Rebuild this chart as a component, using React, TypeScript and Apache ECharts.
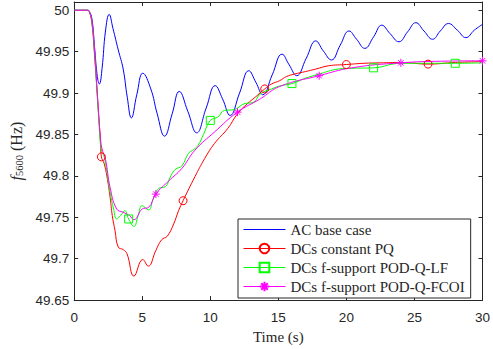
import React, { useEffect, useRef } from "react";
import * as echarts from "echarts";

// ---- Data ----
const blueT = [0, 1.0, 1.1, 1.3, 1.5, 1.7, 1.85, 2.05, 2.3, 2.57, 2.85, 3.24, 3.6, 3.9, 4.2, 4.6, 5.04, 5.63, 6.1, 6.64, 7.2, 7.72, 8.35, 9.0, 9.7, 10.36, 10.9, 11.46, 12.15, 12.83, 13.35, 13.86, 14.55, 15.27, 15.8, 16.35, 17.05, 17.75, 18.3, 18.9, 19.55, 20.19, 20.75, 21.35, 22.0, 22.6, 23.2, 23.86, 24.5, 25.1, 25.7, 26.33, 26.9, 27.5, 28.15, 28.78, 29.4, 30];
const blueY = [50, 50, 49.999, 49.99, 49.955, 49.92, 49.911, 49.93, 49.975, 49.995, 49.978, 49.952, 49.929, 49.895, 49.870, 49.898, 49.924, 49.905, 49.875, 49.848, 49.875, 49.902, 49.878, 49.852, 49.882, 49.909, 49.893, 49.873, 49.9, 49.927, 49.913, 49.898, 49.922, 49.947, 49.934, 49.921, 49.942, 49.963, 49.951, 49.940, 49.958, 49.975, 49.965, 49.954, 49.968, 49.982, 49.972, 49.962, 49.974, 49.985, 49.975, 49.965, 49.975, 49.984, 49.976, 49.967, 49.976, 49.983];

const redT = [0, 1.0, 1.1, 1.3, 1.5, 1.68, 1.8, 1.92, 2.0, 2.2, 2.4, 2.64, 2.8, 3.0, 3.24, 3.6, 3.88, 4.39, 5.04, 5.44, 6.0, 6.43, 6.83, 7.31, 7.67, 8.0, 8.87, 9.59, 10.3, 11.27, 12.0, 12.71, 13.3, 14.0, 14.5, 15.1, 15.6, 16.19, 17.0, 17.75, 18.7, 20.0, 21.3, 22.5, 24.0, 26.0, 28.0, 30];
const redY = [50, 50, 49.999, 49.985, 49.945, 49.903, 49.873, 49.845, 49.823, 49.815, 49.80, 49.774, 49.752, 49.734, 49.714, 49.711, 49.706, 49.679, 49.699, 49.691, 49.710, 49.723, 49.727, 49.742, 49.758, 49.770, 49.799, 49.821, 49.839, 49.857, 49.875, 49.887, 49.895, 49.905, 49.911, 49.915, 49.920, 49.923, 49.926, 49.929, 49.933, 49.9345, 49.936, 49.9365, 49.937, 49.935, 49.937, 49.938];

const greenT = [0, 1.0, 1.1, 1.3, 1.5, 1.68, 1.8, 1.92, 2.04, 2.2, 2.4, 2.64, 2.9, 3.12, 3.4, 3.72, 4.0, 4.39, 4.7, 4.99, 5.47, 5.8, 6.23, 6.7, 7.1, 7.44, 7.91, 8.39, 8.8, 9.11, 9.5, 10.0, 10.55, 11.03, 11.75, 12.47, 13.19, 13.67, 14.5, 15.2, 16.0, 17.0, 18.0, 19.4, 20.5, 22.0, 24.0, 26.0, 28.0, 30];
const greenY = [50, 50, 49.999, 49.985, 49.948, 49.90, 49.87, 49.84, 49.829, 49.823, 49.805, 49.78, 49.76, 49.748, 49.752, 49.758, 49.748, 49.739, 49.752, 49.764, 49.759, 49.772, 49.785, 49.787, 49.80, 49.808, 49.812, 49.827, 49.832, 49.837, 49.85, 49.867, 49.871, 49.879, 49.880, 49.887, 49.889, 49.899, 49.905, 49.909, 49.9115, 49.918, 49.923, 49.929, 49.93, 49.9305, 49.936, 49.936, 49.936, 49.9365];

const magentaT = [0, 1.0, 1.1, 1.3, 1.5, 1.68, 1.8, 1.92, 2.04, 2.3, 2.64, 3.12, 3.6, 4.07, 4.39, 4.99, 5.47, 6.0, 6.95, 7.91, 8.87, 10.31, 12.0, 13.67, 15.1, 18.0, 20.38, 24.0, 27.0, 30];
const magentaY = [50, 50, 49.999, 49.987, 49.95, 49.905, 49.875, 49.848, 49.833, 49.82, 49.786, 49.760, 49.756, 49.752, 49.747, 49.760, 49.762, 49.778, 49.794, 49.809, 49.831, 49.853, 49.877, 49.893, 49.908, 49.921, 49.9305, 49.9365, 49.9385, 49.939];

const redMarkers = [2, 8, 14, 20, 26];
const greenMarkers = [4, 10, 16, 22, 28];
const magentaMarkers = [6, 12, 18, 24, 30];

const seriesNames = ["AC base case", "DCs constant PQ", "DCs f-support POD-Q-LF", "DCs f-support POD-Q-FCOI"];
const seriesColors = ["#0000ff", "#ff0000", "#00ff00", "#ff00ff"];
const xTicks = [0, 5, 10, 15, 20, 25, 30];

const AX = "#262626";
const STAR = "path://M5,0L5,10M0,5L10,5M1.6,1.6L8.4,8.4M1.6,8.4L8.4,1.6";
const CLEAR = "rgba(0,0,0,0)";

function build(ts: number[], ys: number[], markers: number[]) {
  return ts.map((t, i) =>
    markers.some((m) => Math.abs(m - t) < 1e-6)
      ? { value: [t, ys[i]] }
      : { value: [t, ys[i]], symbol: "none" }
  );
}

export default function App() {
  const ref = useRef<HTMLDivElement>(null);
  useEffect(() => {
    if (!ref.current) return;
    const chart = echarts.init(ref.current, undefined, { renderer: "svg" });
    const fmtY = (v: number) => {
      if (Math.abs(v * 20 - Math.round(v * 20)) > 1e-6) return "";
      return String(Math.round(v * 100) / 100);
    };
    const axisCommon = {
      axisLine: { show: true, onZero: false, lineStyle: { color: AX, width: 1 } },
      axisTick: { show: true, inside: true, length: 4, lineStyle: { color: AX } },
      splitLine: { show: false },
    };
    chart.setOption({
      animation: false,
      backgroundColor: "#fff",
      grid: { left: 70, top: 2, width: 417, height: 302, containLabel: false },
      xAxis: [
        {
          type: "value", min: 0, max: 30, interval: 5, position: "bottom",
          ...axisCommon,
          axisLabel: { color: AX, fontFamily: "Liberation Sans, Arial, sans-serif", fontSize: 13.5, margin: 10,
            formatter: (v: number) => (xTicks.includes(v) ? String(v) : "") },
          name: "Time (s)", nameLocation: "middle", nameGap: 24,
          nameTextStyle: { color: AX, fontFamily: "Liberation Serif, Times New Roman, serif", fontSize: 15 },
        },
        {
          type: "value", min: 0, max: 30, interval: 5, position: "top",
          ...axisCommon, axisLabel: { show: false },
        },
      ],
      yAxis: [
        {
          type: "value", min: 49.65, max: 50.01, interval: 0.05, position: "left",
          ...axisCommon,
          axisLabel: { color: AX, fontFamily: "Liberation Sans, Arial, sans-serif", fontSize: 13.5, margin: 5, formatter: fmtY },
          name: "{i|f}{sub|5600}{n| (Hz)}", nameLocation: "middle", nameGap: 46,
          nameTextStyle: {
            rich: {
              i: { fontFamily: "Liberation Serif, serif", fontStyle: "italic", fontSize: 16, color: AX },
              sub: { fontFamily: "Liberation Serif, serif", fontSize: 10.5, color: AX, verticalAlign: "bottom", padding: [6, 0, 0, 0] },
              n: { fontFamily: "Liberation Serif, serif", fontSize: 16, color: AX },
            },
          },
        },
        {
          type: "value", min: 49.65, max: 50.01, interval: 0.05, position: "right",
          ...axisCommon, axisLabel: { show: false },
        },
      ],
      legend: {
        orient: "vertical", left: 238, top: 219,
        data: seriesNames.map((n, i) => ({ name: n, lineStyle: { color: seriesColors[i], width: 1 } })),
        itemWidth: 42, itemHeight: 12, itemGap: 4,
        padding: [3, 6, 4, 5],
        borderColor: AX, borderWidth: 1, backgroundColor: "#fff",
        textStyle: { color: AX, fontFamily: "Liberation Serif, Times New Roman, serif", fontSize: 15, padding: [0, 0, 0, 0] },
      },
      series: [
        {
          name: seriesNames[0], type: "line", data: build(blueT, blueY, []), smooth: 0.45,
          symbol: "circle", symbolSize: 1, showSymbol: false, color: seriesColors[0],
          lineStyle: { color: seriesColors[0], width: 1 },
          itemStyle: { color: CLEAR, borderColor: CLEAR, borderWidth: 0 },
        },
        {
          name: seriesNames[1], type: "line", data: build(redT, redY, redMarkers), smooth: 0.45,
          symbol: "circle", symbolSize: 8, showSymbol: true, color: seriesColors[1],
          lineStyle: { color: seriesColors[1], width: 1 },
          itemStyle: { color: CLEAR, borderColor: seriesColors[1], borderWidth: 1 },
        },
        {
          name: seriesNames[2], type: "line", data: build(greenT, greenY, greenMarkers), smooth: 0.45,
          symbol: "rect", symbolSize: 8, showSymbol: true, color: seriesColors[2],
          lineStyle: { color: seriesColors[2], width: 1 },
          itemStyle: { color: CLEAR, borderColor: seriesColors[2], borderWidth: 1 },
        },
        {
          name: seriesNames[3], type: "line", data: build(magentaT, magentaY, magentaMarkers), smooth: 0.45,
          symbol: STAR, symbolSize: 8, showSymbol: true, color: seriesColors[3],
          lineStyle: { color: seriesColors[3], width: 1 },
          itemStyle: { color: CLEAR, borderColor: seriesColors[3], borderWidth: 1 },
        },
      ],
    });
    return () => chart.dispose();
  }, []);
  return <div ref={ref} style={{ position: "fixed", left: 0, top: 0, width: 493, height: 349 }} />;
}
